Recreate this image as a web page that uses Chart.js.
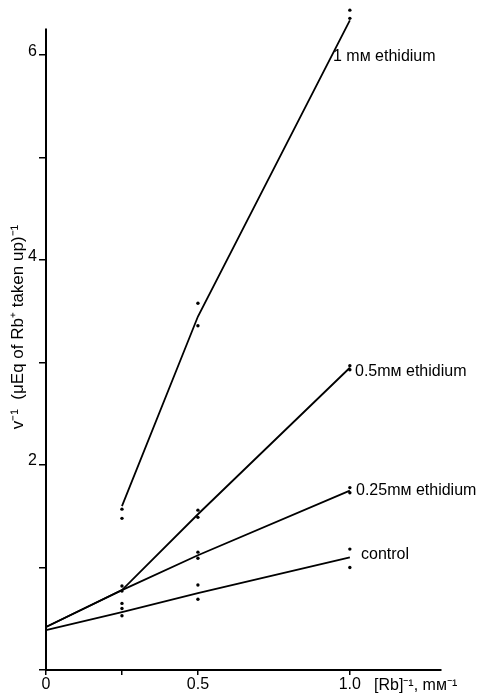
<!DOCTYPE html>
<html>
<head>
<meta charset="utf-8">
<script src="https://cdn.jsdelivr.net/npm/chart.js@4/dist/chart.umd.min.js"></script>
<style>
  body { margin: 0; background: #fff; }
</style>
</head>
<body>
<canvas id="rbChart" width="478" height="694"></canvas>
<script>
// x = [Rb]^-1 (mM^-1), y = v^-1
const lineX = [0, 0.25, 0.5, 1.0]
const line1mM = [null, 1.60, 3.45, 6.34]
const line05mM = [0.42, 0.78, 1.52, 2.95]
const line025mM = [0.42, 0.78, 1.12, 1.75]
const lineControl = [0.39, 0.565, 0.75, 1.10]

// replicate measurements
const dots1mMX = [0.25, 0.25, 0.5, 0.5, 1.0, 1.0]
const dots1mMY = [1.57, 1.48, 3.58, 3.36, 6.44, 6.36]
const dots05mMX = [0.25, 0.5, 0.5, 1.0, 1.0]
const dots05mMY = [0.82, 1.56, 1.49, 2.97, 2.93]
const dots025mMX = [0.25, 0.5, 0.5, 1.0, 1.0]
const dots025mMY = [0.77, 1.15, 1.09, 1.78, 1.73]
const dotsControlX = [0.25, 0.25, 0.25, 0.5, 0.5, 1.0, 1.0]
const dotsControlY = [0.65, 0.60, 0.53, 0.83, 0.69, 1.18, 1.00]

const xTicks = [0, 0.25, 0.5, 1.0]
const xTickLabels = ['0', '', '0.5', '1.0']
const yTicks = [0, 1, 2, 3, 4, 5, 6]
const yTickLabels = ['', '', '2', '', '4', '', '6']
const yAxisTop = 6.26

const seriesNames = ['1 mᴍ ethidium', '0.5mᴍ ethidium', '0.25mᴍ ethidium', 'control']

function pairs(xs, ys) {
    return xs.map((x, i) => ({ x: x, y: ys[i] })).filter(p => p.y !== null)
}

function lineSet(name, ys) {
    return {
        label: name,
        data: pairs(lineX, ys),
        showLine: true,
        borderColor: '#000',
        borderWidth: 1.8,
        pointRadius: 0,
        clip: false
    }
}

function dotSet(name, xs, ys) {
    return {
        label: name + ' points',
        data: pairs(xs, ys),
        showLine: false,
        pointRadius: 1.7,
        pointBackgroundColor: '#000',
        pointBorderWidth: 0,
        clip: false
    }
}

const fontFamily = '"Liberation Sans", Arial, sans-serif'

const labelPlugin = {
    id: 'labels',
    afterDraw(chart) {
        const ctx = chart.ctx
        const y = chart.scales.y
        const left = chart.chartArea.left

        // y axis line stops short of the plot top
        ctx.save()
        ctx.strokeStyle = '#000'
        ctx.lineWidth = 2
        ctx.beginPath()
        ctx.moveTo(left, y.getPixelForValue(0))
        ctx.lineTo(left, y.getPixelForValue(yAxisTop))
        ctx.stroke()

        ctx.fillStyle = '#000'
        ctx.font = '16px ' + fontFamily
        ctx.textBaseline = 'alphabetic'
        ctx.textAlign = 'left'
        ctx.fillText(seriesNames[0], 333, 61)
        ctx.fillText(seriesNames[1], 355, 376)
        ctx.fillText(seriesNames[2], 356, 495)
        ctx.fillText(seriesNames[3], 361, 559)
        ctx.fillText('[Rb]⁻¹, mᴍ⁻¹', 374, 690)

        ctx.translate(18, 327)
        ctx.rotate(-Math.PI / 2)
        ctx.textAlign = 'center'
        ctx.textBaseline = 'middle'
        ctx.font = '17px ' + fontFamily
        ctx.fillText('v⁻¹  (μEq of Rb⁺ taken up)⁻¹', 0, 0)
        ctx.restore()
    }
}

new Chart(document.getElementById('rbChart'), {
    type: 'scatter',
    data: {
        datasets: [
            lineSet(seriesNames[0], line1mM),
            lineSet(seriesNames[1], line05mM),
            lineSet(seriesNames[2], line025mM),
            lineSet(seriesNames[3], lineControl),
            dotSet(seriesNames[0], dots1mMX, dots1mMY),
            dotSet(seriesNames[1], dots05mMX, dots05mMY),
            dotSet(seriesNames[2], dots025mMX, dots025mMY),
            dotSet(seriesNames[3], dotsControlX, dotsControlY)
        ]
    },
    options: {
        responsive: false,
        animation: false,
        layout: { padding: { top: 0, right: 37, left: 0, bottom: 0 } },
        plugins: {
            legend: { display: false },
            tooltip: { enabled: false }
        },
        scales: {
            x: {
                type: 'linear',
                min: 0,
                max: 1.3,
                afterBuildTicks: scale => { scale.ticks = xTicks.map(v => ({ value: v })) },
                afterFit: scale => { scale.height = 24; scale.paddingLeft = 0; scale.paddingRight = 0 },
                border: { color: '#000', width: 2 },
                grid: { drawOnChartArea: false, color: '#000', lineWidth: 1.5, tickLength: 5 },
                ticks: {
                    color: '#000',
                    padding: 0,
                    maxRotation: 0,
                    font: { family: fontFamily, size: 16 },
                    callback: value => xTickLabels[xTicks.indexOf(value)] ?? ''
                }
            },
            y: {
                type: 'linear',
                min: 0,
                max: 6.5,
                afterBuildTicks: scale => { scale.ticks = yTicks.map(v => ({ value: v })) },
                afterFit: scale => { scale.width = 46; scale.paddingTop = 0; scale.paddingBottom = 0 },
                border: { display: false },
                grid: { drawOnChartArea: false, color: '#000', lineWidth: 1.5, tickLength: 7 },
                ticks: {
                    color: '#000',
                    padding: 2,
                    labelOffset: -4,
                    font: { family: fontFamily, size: 16 },
                    callback: value => yTickLabels[yTicks.indexOf(value)] ?? ''
                }
            }
        }
    },
    plugins: [labelPlugin]
})
</script>
</body>
</html>
